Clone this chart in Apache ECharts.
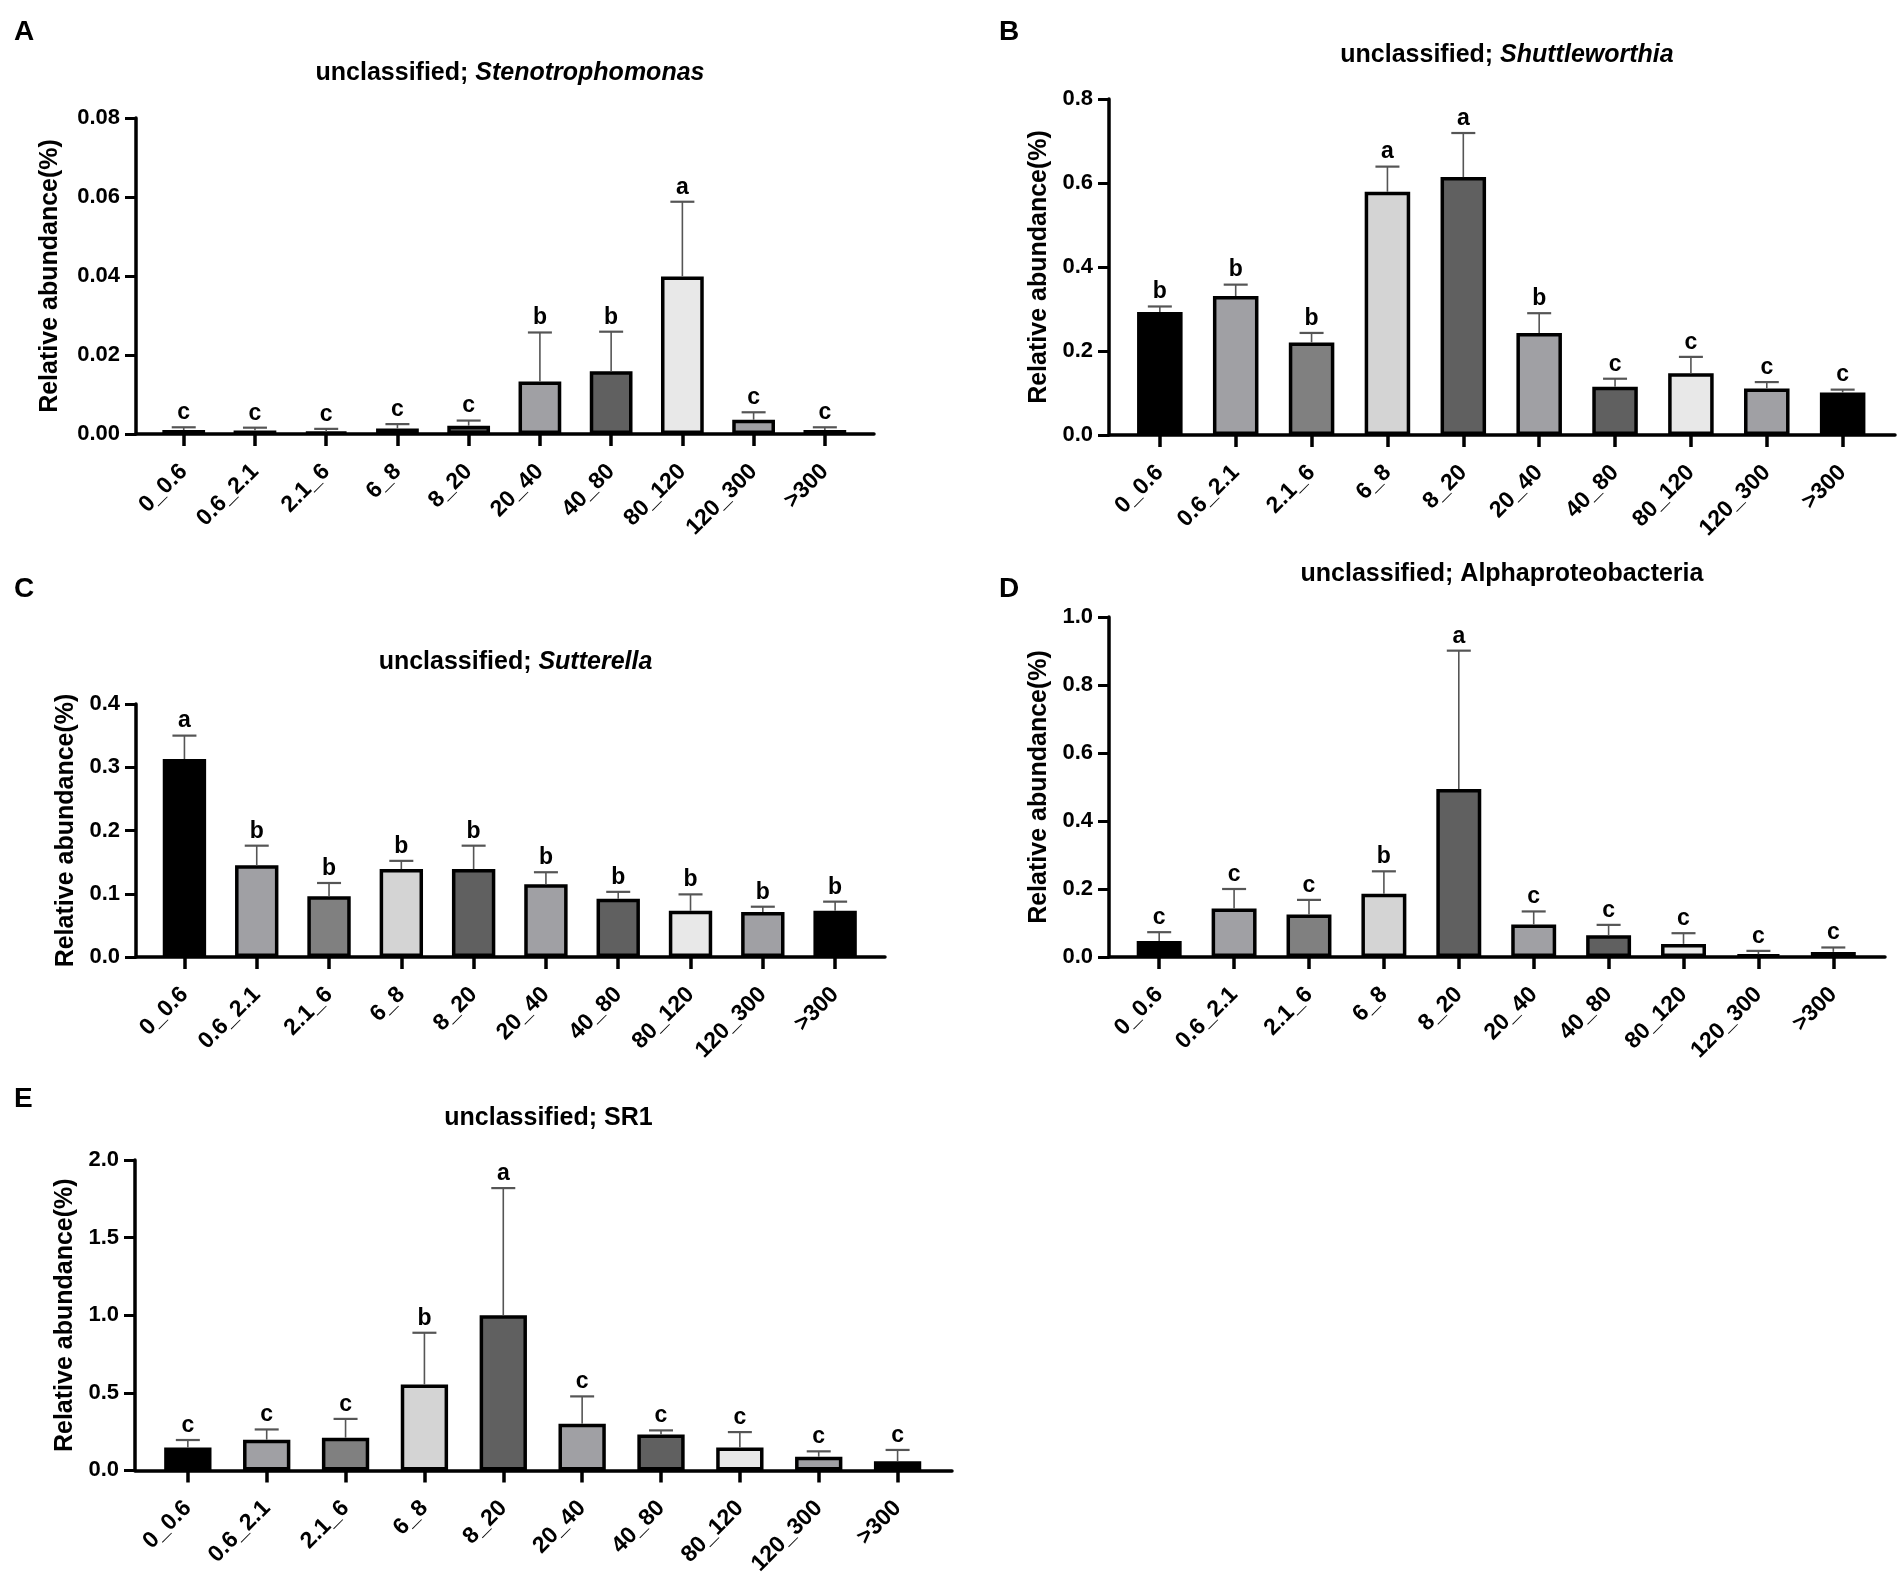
<!DOCTYPE html>
<html>
<head>
<meta charset="utf-8">
<script src="https://cdn.jsdelivr.net/npm/echarts@6/dist/echarts.min.js"></script>
<style>
  html, body { margin: 0; padding: 0; background: #fff; }
  #chart { width: 1902px; height: 1578px; }
</style>
</head>
<body>
<div id="chart"></div>
<script>
// size fractions on the x axis, shared by all five panels
var categories = ['0_0.6', '0.6_2.1', '2.1_6', '6_8', '8_20', '20_40', '40_80', '80_120', '120_300', '>300'];
var barColors = ['#000000', '#a0a0a4', '#808080', '#d4d4d4', '#606060', '#a0a0a4', '#606060', '#e8e8e8', '#a0a0a4', '#000000'];

// A: unclassified; Stenotrophomonas
var stenoMean = [0.0010, 0.0009, 0.0005, 0.0014, 0.0021, 0.0133, 0.0159, 0.0399, 0.0036, 0.0010];
var stenoErr = [0.0007, 0.0007, 0.0008, 0.0011, 0.0013, 0.0124, 0.0100, 0.0189, 0.0019, 0.0007];
var stenoLetters = ['c', 'c', 'c', 'c', 'c', 'b', 'b', 'a', 'c', 'c'];
var stenoTicks = [0, 0.02, 0.04, 0.06, 0.08];

// B: unclassified; Shuttleworthia
var shuttMean = [0.293, 0.331, 0.220, 0.579, 0.614, 0.243, 0.115, 0.147, 0.111, 0.101];
var shuttErr = [0.013, 0.027, 0.023, 0.060, 0.105, 0.047, 0.019, 0.039, 0.015, 0.007];
var shuttLetters = ['b', 'b', 'b', 'a', 'a', 'b', 'c', 'c', 'c', 'c'];
var shuttTicks = [0, 0.2, 0.4, 0.6, 0.8];

// C: unclassified; Sutterella
var suttMean = [0.313, 0.145, 0.096, 0.139, 0.139, 0.115, 0.092, 0.073, 0.071, 0.073];
var suttErr = [0.037, 0.031, 0.021, 0.013, 0.037, 0.019, 0.011, 0.026, 0.0085, 0.0145];
var suttLetters = ['a', 'b', 'b', 'b', 'b', 'b', 'b', 'b', 'b', 'b'];
var suttTicks = [0, 0.1, 0.2, 0.3, 0.4];

// D: unclassified; Alphaproteobacteria
var alphaMean = [0.047, 0.143, 0.125, 0.186, 0.494, 0.0955, 0.064, 0.0386, 0.008, 0.015];
var alphaErr = [0.026, 0.057, 0.043, 0.066, 0.407, 0.0385, 0.0305, 0.0314, 0.010, 0.013];
var alphaLetters = ['c', 'c', 'c', 'b', 'a', 'c', 'c', 'c', 'c', 'c'];
var alphaTicks = [0, 0.2, 0.4, 0.6, 0.8, 1.0];

// E: unclassified; SR1
var sr1Mean = [0.147, 0.198, 0.211, 0.553, 1.000, 0.300, 0.232, 0.147, 0.088, 0.059];
var sr1Err = [0.049, 0.066, 0.121, 0.334, 0.819, 0.177, 0.026, 0.100, 0.035, 0.073];
var sr1Letters = ['c', 'c', 'c', 'b', 'a', 'c', 'c', 'c', 'c', 'c'];
var sr1Ticks = [0, 0.5, 1.0, 1.5, 2.0];

var FONT = 'Liberation Sans';
var chart = echarts.init(document.getElementById('chart'), null, { renderer: 'canvas' });

var panels = [
  { tag: 'A', name: 'Stenotrophomonas', italic: true, mean: stenoMean, err: stenoErr, letters: stenoLetters,
    ticks: stenoTicks, digits: 2, grid: { left: 136, top: 118, width: 738, height: 316 },
    nameGap: 73, titleY: 70, tagPos: [9, 13] },
  { tag: 'B', name: 'Shuttleworthia', italic: true, mean: shuttMean, err: shuttErr, letters: shuttLetters,
    ticks: shuttTicks, digits: 1, grid: { left: 1109, top: 99, width: 786, height: 336 },
    nameGap: 57, titleY: 52, tagPos: [994, 13] },
  { tag: 'C', name: 'Sutterella', italic: true, mean: suttMean, err: suttErr, letters: suttLetters,
    ticks: suttTicks, digits: 1, grid: { left: 136, top: 704, width: 749, height: 253 },
    nameGap: 57, titleY: 659, tagPos: [9, 570] },
  { tag: 'D', name: 'Alphaproteobacteria', italic: false, mean: alphaMean, err: alphaErr, letters: alphaLetters,
    ticks: alphaTicks, digits: 1, grid: { left: 1109, top: 617, width: 776, height: 340 },
    nameGap: 57, titleY: 571, tagPos: [994, 570] },
  { tag: 'E', name: 'SR1', italic: false, mean: sr1Mean, err: sr1Err, letters: sr1Letters,
    ticks: sr1Ticks, digits: 1, grid: { left: 135, top: 1160, width: 817, height: 313 },
    nameGap: 57, titleY: 1115, tagPos: [9, 1080] }
];

var catIdx = categories.map(function (c, i) { return i; });
var grids = [], xAxes = [], yAxes = [], series = [], titles = [];

panels.forEach(function (p, k) {
  grids.push(p.grid);

  titles.push({
    text: '{n|unclassified; }{' + (p.italic ? 'i' : 'n') + '|' + p.name + '}',
    left: p.grid.left + p.grid.width / 2,
    top: p.titleY - 14,
    textAlign: 'center',
    textStyle: {
      rich: {
        n: { fontFamily: FONT, fontWeight: 'bold', fontSize: 25, color: '#000' },
        i: { fontFamily: FONT, fontWeight: 'bold', fontStyle: 'italic', fontSize: 25, color: '#000' }
      }
    }
  });
  titles.push({
    text: p.tag, left: p.tagPos[0], top: p.tagPos[1],
    textStyle: { fontFamily: FONT, fontWeight: 'bold', fontSize: 28, color: '#000' }
  });

  xAxes.push({
    gridIndex: k, type: 'value', min: -0.67, max: 9.69,
    axisLine: { show: true, onZero: false, lineStyle: { color: '#000', width: 3.5 } },
    axisTick: { show: true, customValues: catIdx, length: 12, lineStyle: { color: '#000', width: 3.5 } },
    axisLabel: {
      customValues: catIdx, rotate: 45, margin: 34,
      fontFamily: FONT, fontWeight: 'bold', fontSize: 23, color: '#000',
      formatter: function (v) { return categories[Math.round(v)]; }
    },
    splitLine: { show: false }
  });

  var yMax = p.ticks[p.ticks.length - 1];
  yAxes.push({
    gridIndex: k, type: 'value', min: 0, max: yMax, interval: p.ticks[1] - p.ticks[0],
    name: 'Relative abundance(%)', nameLocation: 'middle', nameGap: p.nameGap,
    nameTextStyle: { fontFamily: FONT, fontWeight: 'bold', fontSize: 25, color: '#000' },
    axisLine: { show: true, onZero: false, lineStyle: { color: '#000', width: 3.5 } },
    axisTick: { show: true, length: 11, lineStyle: { color: '#000', width: 3 } },
    axisLabel: {
      margin: 16, fontFamily: FONT, fontWeight: 'bold', fontSize: 22, color: '#000',
      formatter: function (v) { return v.toFixed(p.digits); }
    },
    splitLine: { show: false }
  });

  series.push({
    type: 'bar', xAxisIndex: k, yAxisIndex: k, barWidth: '60%', silent: true,
    itemStyle: { borderColor: '#000', borderWidth: 3.5 },
    data: p.mean.map(function (v, j) {
      return { value: [j, v], itemStyle: { color: barColors[j] } };
    })
  });

  var letters = p.letters;
  series.push({
    type: 'custom', xAxisIndex: k, yAxisIndex: k, silent: true, clip: false, z: 5,
    data: p.mean.map(function (v, j) { return [j, v, p.err[j]]; }),
    renderItem: function (params, api) {
      var x = api.value(0), m = api.value(1), e = api.value(2);
      var base = api.coord([x, m]);
      var top = api.coord([x, m + e]);
      return {
        type: 'group',
        children: [
          { type: 'line', shape: { x1: base[0], y1: base[1], x2: top[0], y2: top[1] },
            style: { stroke: '#555', lineWidth: 1.6 } },
          { type: 'line', shape: { x1: top[0] - 12, y1: top[1], x2: top[0] + 12, y2: top[1] },
            style: { stroke: '#555', lineWidth: 2.2 } },
          { type: 'text', x: top[0], y: top[1] - 3,
            style: { text: letters[params.dataIndex], fill: '#000',
              font: 'bold 23px "Liberation Sans"', align: 'center', verticalAlign: 'bottom' } }
        ]
      };
    }
  });
});

chart.setOption({
  backgroundColor: '#fff',
  animation: false,
  title: titles,
  grid: grids,
  xAxis: xAxes,
  yAxis: yAxes,
  series: series
});
</script>
</body>
</html>
